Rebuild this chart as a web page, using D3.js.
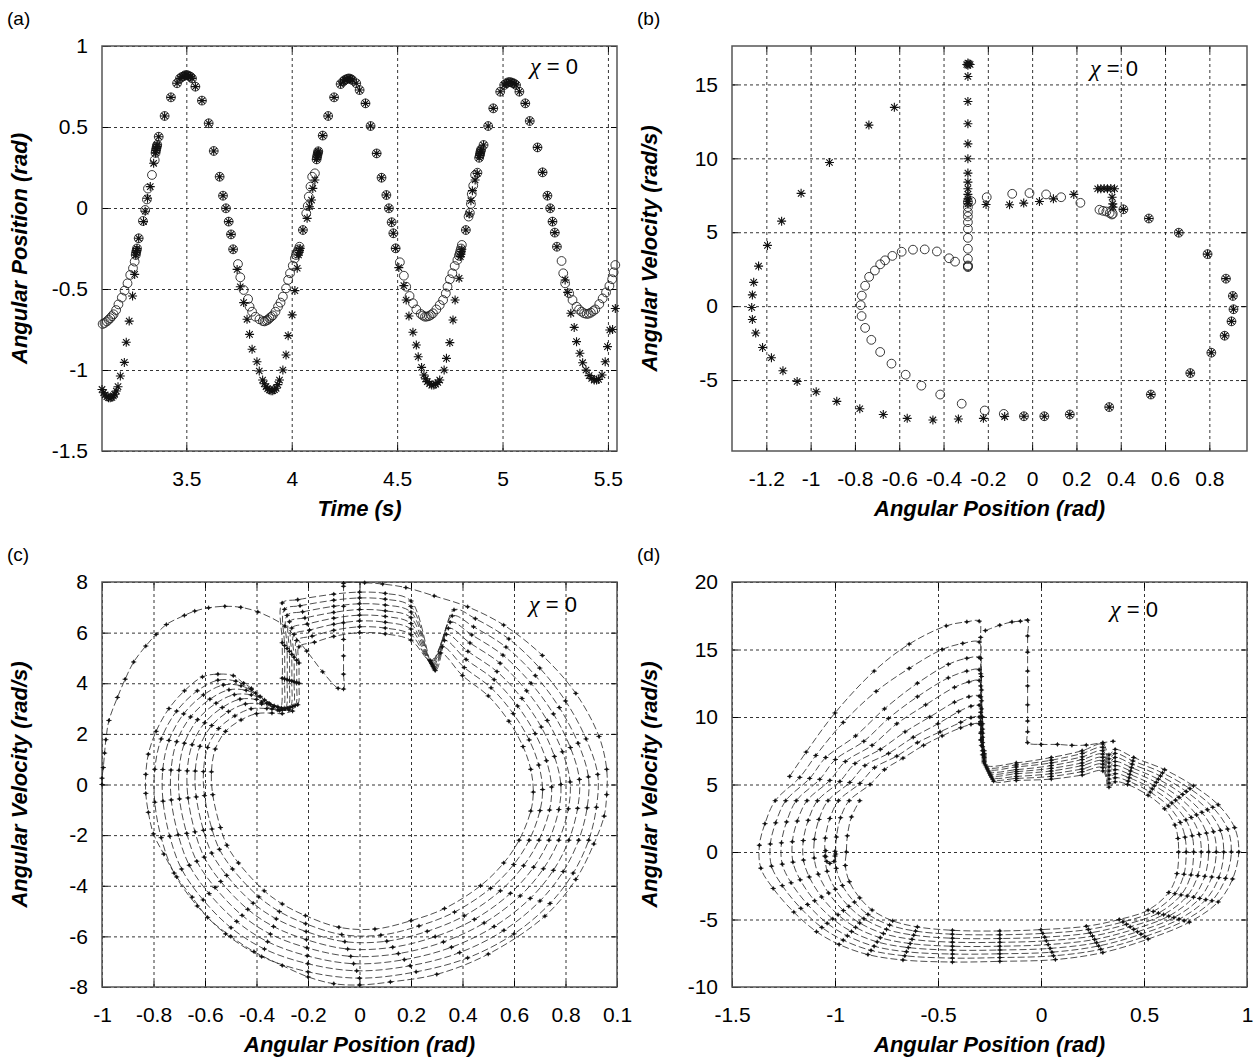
<!DOCTYPE html>
<html>
<head>
<meta charset="utf-8">
<script src="https://cdn.jsdelivr.net/npm/d3@7"></script>
<style>
  body { margin: 0; background: #fff; }
  svg { font-family: "Liberation Sans", Arial, sans-serif; }
  .grid line { stroke: #000; stroke-width: 0.8; stroke-dasharray: 3,3; }
  .grid path, .ticks path, .labels path, .labels line { display: none; }
  .ticks line { stroke: #000; stroke-width: 1; }
  .labels text { font-size: 21px; fill: #000; }
  .title { font-size: 22px; font-weight: bold; font-style: italic; }
  .panel-tag { font-size: 19px; }
</style>
</head>
<body>
<svg id="fig" width="1259" height="1059"></svg>
<script>
"use strict";

// ---------- (a) angular position vs time: [time s, angle rad] ----------
const circlesA = [
  [3.103,-0.716],[3.112,-0.71],[3.123,-0.70],[3.131,-0.69],[3.139,-0.68],[3.147,-0.668],[3.155,-0.656],
  [3.167,-0.63],[3.178,-0.595],[3.194,-0.553],[3.207,-0.51],[3.221,-0.465],[3.234,-0.413],[3.247,-0.372],
  [3.255,-0.331],[3.26,-0.29],[3.262,-0.275],[3.264,-0.263],[3.266,-0.25],[3.274,-0.187],[3.294,-0.08],
  [3.305,-0.012],[3.313,0.053],[3.318,0.12],[3.337,0.204],[3.35,0.296],[3.354,0.34],[3.356,0.355],
  [3.358,0.368],[3.36,0.38],[3.362,0.39],[3.369,0.44],[3.397,0.568],[3.427,0.683],[3.456,0.77],[3.47,0.80],
  [3.48,0.81],[3.49,0.815],[3.495,0.82],[3.503,0.82],[3.511,0.817],[3.52,0.81],[3.527,0.80],[3.543,0.749],
  [3.574,0.663],[3.606,0.523],[3.63,0.352],[3.658,0.193],[3.674,0.076],[3.688,-0.002],[3.701,-0.084],
  [3.712,-0.163],[3.722,-0.255],[3.745,-0.346],[3.756,-0.428],[3.772,-0.506],[3.793,-0.562],[3.8,-0.609],
  [3.812,-0.64],[3.828,-0.671],[3.847,-0.687],[3.863,-0.698],[3.871,-0.70],[3.879,-0.695],[3.887,-0.69],
  [3.894,-0.68],[3.902,-0.672],[3.91,-0.663],[3.923,-0.64],[3.935,-0.609],[3.947,-0.584],[3.958,-0.547],
  [3.973,-0.496],[3.983,-0.444],[3.992,-0.403],[4.005,-0.356],[4.015,-0.311],[4.02,-0.29],[4.024,-0.28],
  [4.028,-0.268],[4.032,-0.255],[4.037,-0.239],[4.053,-0.136],[4.069,-0.033],[4.076,0.012],[4.081,0.07],
  [4.089,0.132],[4.097,0.193],[4.11,0.214],[4.118,0.30],[4.12,0.315],[4.122,0.327],[4.124,0.34],[4.126,0.35],
  [4.147,0.447],[4.173,0.568],[4.201,0.683],[4.232,0.765],[4.245,0.782],[4.252,0.79],[4.262,0.797],
  [4.271,0.80],[4.279,0.797],[4.287,0.79],[4.306,0.77],[4.322,0.728],[4.35,0.646],[4.374,0.506],[4.403,0.337],
  [4.426,0.187],[4.449,0.08],[4.461,-0.002],[4.474,-0.088],[4.482,-0.156],[4.493,-0.249],[4.513,-0.335],
  [4.532,-0.418],[4.543,-0.486],[4.559,-0.543],[4.575,-0.588],[4.591,-0.626],[4.612,-0.654],[4.622,-0.664],
  [4.632,-0.671],[4.641,-0.67],[4.651,-0.667],[4.66,-0.66],[4.67,-0.65],[4.686,-0.626],[4.702,-0.599],
  [4.718,-0.568],[4.731,-0.527],[4.739,-0.486],[4.75,-0.44],[4.762,-0.403],[4.773,-0.358],[4.786,-0.321],
  [4.793,-0.295],[4.797,-0.28],[4.80,-0.265],[4.803,-0.25],[4.807,-0.228],[4.826,-0.136],[4.839,-0.053],
  [4.845,-0.03],[4.85,0.025],[4.854,0.086],[4.861,0.138],[4.87,0.204],[4.881,0.218],[4.889,0.31],[4.892,0.325],
  [4.894,0.337],[4.896,0.35],[4.898,0.36],[4.91,0.389],[4.932,0.506],[4.956,0.615],[4.989,0.718],[5.008,0.759],
  [5.018,0.77],[5.027,0.776],[5.036,0.777],[5.045,0.774],[5.055,0.768],[5.064,0.759],[5.08,0.718],[5.108,0.646],
  [5.129,0.537],[5.166,0.374],[5.19,0.22],[5.213,0.076],[5.226,-0.002],[5.237,-0.084],[5.248,-0.152],
  [5.258,-0.239],[5.28,-0.327],[5.288,-0.403],[5.297,-0.465],[5.316,-0.527],[5.332,-0.568],[5.351,-0.609],
  [5.363,-0.627],[5.375,-0.64],[5.387,-0.65],[5.399,-0.654],[5.409,-0.652],[5.419,-0.646],[5.43,-0.636],
  [5.44,-0.626],[5.459,-0.593],[5.475,-0.558],[5.491,-0.521],[5.507,-0.481],[5.52,-0.44],[5.527,-0.397],
  [5.535,-0.352]
];
const starsA = [
  [3.1,-1.12],[3.108,-1.14],[3.115,-1.154],[3.123,-1.165],[3.131,-1.171],[3.139,-1.172],[3.147,-1.169],
  [3.154,-1.16],[3.16,-1.15],[3.168,-1.13],[3.176,-1.103],[3.187,-1.037],[3.206,-0.953],[3.215,-0.829],
  [3.229,-0.698],[3.245,-0.543],[3.255,-0.41],[3.26,-0.29],[3.262,-0.275],[3.264,-0.263],[3.266,-0.25],
  [3.274,-0.187],[3.297,-0.084],[3.305,-0.02],[3.316,0.06],[3.329,0.132],[3.345,0.276],[3.354,0.34],
  [3.356,0.355],[3.358,0.368],[3.36,0.38],[3.362,0.39],[3.369,0.44],[3.397,0.568],[3.427,0.683],[3.456,0.77],
  [3.47,0.80],[3.48,0.81],[3.49,0.815],[3.495,0.82],[3.503,0.82],[3.511,0.817],[3.52,0.81],[3.527,0.80],
  [3.543,0.749],[3.574,0.663],[3.606,0.523],[3.63,0.352],[3.658,0.193],[3.674,0.076],[3.688,-0.002],
  [3.701,-0.084],[3.712,-0.163],[3.722,-0.255],[3.741,-0.379],[3.756,-0.486],[3.772,-0.584],[3.788,-0.687],
  [3.8,-0.78],[3.812,-0.872],[3.835,-0.949],[3.846,-1.006],[3.862,-1.062],[3.87,-1.085],[3.878,-1.103],
  [3.886,-1.115],[3.894,-1.123],[3.902,-1.128],[3.91,-1.128],[3.918,-1.122],[3.926,-1.113],[3.934,-1.09],
  [3.942,-1.062],[3.958,-1.0],[3.973,-0.907],[3.983,-0.788],[4.002,-0.66],[4.015,-0.51],[4.026,-0.372],
  [4.032,-0.29],[4.035,-0.275],[4.037,-0.262],[4.04,-0.25],[4.053,-0.136],[4.073,-0.064],[4.084,0.008],
  [4.094,0.049],[4.1,0.121],[4.11,0.173],[4.118,0.30],[4.12,0.315],[4.122,0.327],[4.124,0.34],[4.126,0.35],
  [4.147,0.447],[4.173,0.568],[4.201,0.683],[4.232,0.765],[4.245,0.782],[4.252,0.79],[4.262,0.797],
  [4.271,0.80],[4.279,0.797],[4.287,0.79],[4.306,0.77],[4.322,0.728],[4.35,0.646],[4.374,0.506],[4.403,0.337],
  [4.426,0.187],[4.449,0.08],[4.461,-0.002],[4.474,-0.088],[4.482,-0.156],[4.493,-0.249],[4.508,-0.368],
  [4.532,-0.479],[4.543,-0.568],[4.556,-0.667],[4.575,-0.767],[4.591,-0.846],[4.6,-0.918],[4.616,-0.984],
  [4.627,-1.031],[4.635,-1.055],[4.643,-1.072],[4.654,-1.085],[4.664,-1.093],[4.674,-1.092],[4.683,-1.088],
  [4.693,-1.077],[4.702,-1.062],[4.723,-1.0],[4.734,-0.928],[4.75,-0.831],[4.765,-0.691],[4.775,-0.568],
  [4.794,-0.434],[4.80,-0.3],[4.803,-0.285],[4.805,-0.27],[4.807,-0.255],[4.826,-0.136],[4.842,-0.037],
  [4.85,0.045],[4.857,0.107],[4.87,0.173],[4.88,0.214],[4.889,0.31],[4.892,0.325],[4.894,0.337],[4.896,0.35],
  [4.898,0.36],[4.91,0.389],[4.932,0.506],[4.956,0.615],[4.989,0.718],[5.008,0.759],[5.018,0.77],[5.027,0.776],
  [5.036,0.777],[5.045,0.774],[5.055,0.768],[5.064,0.759],[5.08,0.718],[5.108,0.646],[5.129,0.537],
  [5.166,0.374],[5.19,0.22],[5.213,0.076],[5.226,-0.002],[5.237,-0.084],[5.248,-0.152],[5.258,-0.239],
  [5.297,-0.444],[5.309,-0.521],[5.324,-0.65],[5.34,-0.737],[5.351,-0.825],[5.367,-0.897],[5.38,-0.955],
  [5.396,-1.0],[5.411,-1.035],[5.423,-1.052],[5.435,-1.062],[5.446,-1.062],[5.456,-1.058],[5.472,-1.031],
  [5.487,-0.949],[5.498,-0.856],[5.509,-0.753],[5.522,-0.75],[5.535,-0.62]
];

// ---------- (b) phase plane samples: [angle rad, velocity rad/s] ----------
const sharedB = [
  [-0.037,-7.45],[0.055,-7.45],[0.17,-7.33],[0.348,-6.83],[0.536,-5.98],[0.714,-4.53],[0.809,-3.15],
  [0.869,-2.0],[0.9,-1.03],[0.909,-0.21],[0.906,0.69],[0.875,1.86],[0.792,3.52],[0.662,4.97],[0.527,5.93],
  [0.412,6.55]
];
const circlesB = [
  [-0.769,0.71],[-0.774,0.07],[-0.77,-0.67],[-0.754,-1.47],[-0.726,-2.28],[-0.686,-3.1],[-0.635,-3.89],
  [-0.571,-4.64],[-0.5,-5.38],[-0.415,-5.98],[-0.318,-6.6],[-0.214,-7.06],[-0.128,-7.29],
  [-0.754,1.38],[-0.736,1.98],[-0.71,2.41],[-0.686,2.83],[-0.664,3.1],[-0.631,3.4],[-0.589,3.68],
  [-0.538,3.82],[-0.485,3.84],[-0.43,3.7],[-0.375,3.24],[-0.348,3.01],
  [-0.29,2.64],[-0.29,2.7],[-0.29,2.75],[-0.29,3.2],[-0.29,3.88],[-0.29,4.62],[-0.29,5.23],[-0.29,5.68],
  [-0.29,6.07],[-0.29,6.36],[-0.29,6.7],[-0.29,7.04],[-0.275,7.1],
  [-0.205,7.37],[-0.09,7.6],[-0.012,7.65],[0.063,7.56],[0.131,7.37],[0.218,6.99],
  [0.304,6.52],[0.32,6.45],[0.335,6.4],[0.35,6.3],[0.36,6.2],[0.364,6.25]
];
const starsB = [
  [-1.266,-0.09],[-1.263,0.76],[-1.257,1.61],[-1.235,2.71],[-1.195,4.11],[-1.131,5.75],[-1.043,7.63],
  [-0.915,9.72],[-0.737,12.25],[-0.622,13.45],
  [-1.263,-0.9],[-1.248,-1.82],[-1.217,-2.8],[-1.177,-3.49],[-1.125,-4.37],[-1.061,-5.1],[-0.975,-5.79],
  [-0.882,-6.44],[-0.778,-6.94],[-0.672,-7.33],[-0.564,-7.59],[-0.448,-7.7],[-0.333,-7.63],[-0.22,-7.59],
  [-0.124,-7.47],
  [-0.295,16.35],[-0.29,16.45],[-0.285,16.4],[-0.28,16.35],[-0.29,16.3],[-0.29,15.54],[-0.29,13.85],
  [-0.29,12.34],[-0.29,10.98],[-0.29,9.97],[-0.29,9.0],[-0.29,8.39],[-0.29,7.94],[-0.29,7.56],[-0.29,7.26],
  [-0.29,6.92],[-0.29,7.1],
  [-0.208,6.88],[-0.102,6.86],[-0.038,6.97],[0.033,7.08],[0.096,7.26],[0.188,7.56],
  [0.296,7.94],[0.31,7.94],[0.325,7.96],[0.34,7.94],[0.355,7.96],[0.372,7.94],[0.361,7.37],[0.364,6.92],
  [0.365,6.7]
];

// ---------- (c) phase portrait ----------
const startC = [
  [-1,0],[-1,0.25],[-0.995,0.67],[-0.99,1.24],[-0.985,1.77],[-0.973,2.53],[-0.94,3.44],[-0.91,4.16],
  [-0.877,4.84],[-0.83,5.47],[-0.79,5.93],[-0.75,6.32],[-0.68,6.68],[-0.64,6.85],[-0.586,6.98],[-0.523,7.04],
  [-0.461,7.0],[-0.395,6.82],[-0.29,6.26],[-0.205,5.27],[-0.143,4.45],[-0.083,3.8],[-0.062,3.77],
  [-0.062,4.36],[-0.062,5.08],[-0.062,5.73],[-0.062,6.39],[-0.062,7.04],[-0.062,7.83],[-0.062,7.95],
  [0.02,7.97],[0.09,7.92],[0.18,7.78],[0.29,7.45],[0.42,7.02],[0.56,6.3],[0.71,5.1],[0.84,3.6],[0.93,1.9],
  [0.96,0.6],[0.96,-0.4],[0.95,-1.25],[0.91,-2.35],[0.84,-3.75],[0.72,-5.2],[0.5,-6.7],[0.3,-7.5],
  [0.12,-7.8],[0.0,-7.92],[-0.1,-7.87],[-0.2,-7.6],[-0.3,-7.15],[-0.41,-6.6],[-0.5,-6.0],[-0.59,-5.25],
  [-0.65,-4.45],[-0.71,-3.65],[-0.76,-2.75],[-0.8,-1.95],[-0.82,-1.1],[-0.83,-0.35],[-0.83,0.4],[-0.82,1.2],
  [-0.79,2.1],[-0.74,3.0],[-0.68,3.7],[-0.61,4.25],[-0.55,4.36],[-0.49,4.3],[-0.45,4.0],[-0.42,3.8],
  [-0.38,3.25],[-0.34,2.98]
];
// one entry per station round the ring: [x of rings 1..8, y of rings 1..8] (single number = same for all)
const kickXC = [-0.30,-0.291,-0.281,-0.272,-0.263,-0.254,-0.244,-0.235];
const ringStationsC = [
  [[-0.31,-0.30,-0.29,-0.28,-0.27,-0.26,-0.25,-0.24],[2.92,2.95,2.99,3.02,3.05,3.08,3.12,3.15]],
  [kickXC,[4.2,4.17,4.14,4.11,4.09,4.06,4.03,4.0]],
  [kickXC,[5.6,5.49,5.37,5.26,5.14,5.03,4.91,4.8]],
  [kickXC,[7.17,6.92,6.68,6.43,6.18,5.93,5.69,5.44]],
  [[-0.24,-0.231,-0.221,-0.212,-0.203,-0.194,-0.184,-0.175],[7.3,7.06,6.82,6.58,6.34,6.1,5.86,5.62]],
  [-0.1,[7.52,7.28,7.04,6.8,6.57,6.33,6.09,5.85]],
  [0,[7.6,7.37,7.14,6.91,6.69,6.46,6.23,6.0]],
  [0.1,[7.55,7.32,7.09,6.86,6.64,6.41,6.18,5.95]],
  [0.2,[7.25,7.03,6.81,6.59,6.36,6.14,5.92,5.7]],
  [[0.294,0.291,0.289,0.286,0.283,0.28,0.278,0.275],[4.5,4.56,4.61,4.67,4.73,4.79,4.84,4.9]],
  [[0.367,0.36,0.352,0.345,0.337,0.33,0.322,0.315],[6.9,6.66,6.41,6.17,5.93,5.69,5.44,5.2]],
  [[0.45,0.443,0.436,0.429,0.421,0.414,0.407,0.40],[6.55,6.23,5.91,5.59,5.26,4.94,4.62,4.3]],
  [[0.58,0.569,0.557,0.546,0.534,0.523,0.511,0.50],[5.75,5.43,5.11,4.79,4.46,4.14,3.82,3.5]],
  [[0.70,0.683,0.666,0.649,0.631,0.614,0.597,0.58],[4.6,4.3,4.0,3.7,3.4,3.1,2.8,2.5]],
  [[0.80,0.776,0.753,0.729,0.706,0.682,0.659,0.635],[3.3,3.04,2.79,2.53,2.27,2.01,1.76,1.5]],
  [[0.88,0.849,0.819,0.788,0.757,0.726,0.696,0.665],[1.8,1.63,1.46,1.29,1.11,0.94,0.77,0.6]],
  [[0.925,0.889,0.854,0.818,0.782,0.746,0.711,0.675],[0.4,0.3,0.2,0.1,0.0,-0.1,-0.2,-0.3]],
  [[0.92,0.884,0.847,0.811,0.774,0.738,0.701,0.665],[-0.9,-0.92,-0.94,-0.96,-0.99,-1.01,-1.03,-1.05]],
  [[0.89,0.851,0.813,0.774,0.736,0.697,0.659,0.62],-2.2],
  [[0.83,0.791,0.753,0.714,0.676,0.637,0.599,0.56],[-3.5,-3.44,-3.39,-3.33,-3.27,-3.21,-3.16,-3.1]],
  [[0.74,0.701,0.663,0.624,0.586,0.547,0.509,0.47],[-4.7,-4.6,-4.5,-4.4,-4.3,-4.2,-4.1,-4.0]],
  [[0.6,0.561,0.523,0.484,0.446,0.407,0.369,0.33],[-5.9,-5.76,-5.61,-5.47,-5.33,-5.19,-5.04,-4.9]],
  [[0.42,0.389,0.357,0.326,0.294,0.263,0.231,0.2],[-6.85,-6.64,-6.43,-6.22,-6.01,-5.8,-5.59,-5.38]],
  [[0.22,0.197,0.174,0.151,0.129,0.106,0.083,0.06],[-7.4,-7.16,-6.92,-6.68,-6.43,-6.19,-5.95,-5.71]],
  [[0,-0.011,-0.023,-0.034,-0.046,-0.057,-0.069,-0.08],[-7.65,-7.36,-7.08,-6.79,-6.5,-6.21,-5.93,-5.64]],
  [[-0.2,-0.201,-0.203,-0.204,-0.206,-0.207,-0.209,-0.21],[-7.4,-7.08,-6.77,-6.45,-6.13,-5.81,-5.5,-5.18]],
  [[-0.38,-0.369,-0.357,-0.346,-0.334,-0.323,-0.311,-0.3],[-6.8,-6.5,-6.21,-5.91,-5.61,-5.31,-5.02,-4.72]],
  [[-0.52,-0.499,-0.477,-0.456,-0.434,-0.413,-0.391,-0.37],[-5.9,-5.66,-5.41,-5.17,-4.93,-4.69,-4.44,-4.2]],
  [[-0.63,-0.607,-0.584,-0.561,-0.539,-0.516,-0.493,-0.47],[-4.8,-4.56,-4.31,-4.07,-3.83,-3.59,-3.34,-3.1]],
  [[-0.72,-0.691,-0.661,-0.632,-0.603,-0.574,-0.544,-0.515],[-3.5,-3.34,-3.19,-3.03,-2.87,-2.71,-2.56,-2.4]],
  [[-0.77,-0.737,-0.704,-0.671,-0.639,-0.606,-0.573,-0.54],[-2.1,-2.04,-1.99,-1.93,-1.87,-1.81,-1.76,-1.7]],
  [[-0.795,-0.763,-0.731,-0.699,-0.666,-0.634,-0.602,-0.57],[-0.7,-0.66,-0.61,-0.57,-0.53,-0.49,-0.44,-0.4]],
  [[-0.795,-0.764,-0.732,-0.701,-0.669,-0.638,-0.606,-0.575],[0.6,0.59,0.57,0.56,0.54,0.53,0.51,0.5]],
  [[-0.77,-0.74,-0.71,-0.68,-0.65,-0.62,-0.59,-0.56],[1.8,1.74,1.69,1.63,1.57,1.51,1.46,1.4]],
  [[-0.71,-0.683,-0.656,-0.629,-0.601,-0.574,-0.547,-0.52],[2.9,2.79,2.67,2.56,2.44,2.33,2.21,2.1]],
  [[-0.63,-0.606,-0.581,-0.557,-0.533,-0.509,-0.484,-0.46],[3.7,3.54,3.37,3.21,3.04,2.88,2.71,2.55]],
  [[-0.55,-0.529,-0.507,-0.486,-0.464,-0.443,-0.421,-0.4],[4.12,3.93,3.74,3.55,3.37,3.18,2.99,2.8]],
  [[-0.48,-0.46,-0.44,-0.42,-0.4,-0.38,-0.36,-0.34],[4.08,3.9,3.72,3.54,3.36,3.18,3.0,2.82]],
  [[-0.42,-0.403,-0.386,-0.369,-0.351,-0.334,-0.317,-0.3],[3.75,3.61,3.48,3.34,3.21,3.07,2.94,2.8]],
  [[-0.36,-0.346,-0.331,-0.317,-0.303,-0.289,-0.274,-0.26],[3.2,3.16,3.11,3.07,3.03,2.99,2.94,2.9]]
];

// ---------- (d) phase portrait ----------
const startD = [
  [-0.27,16.4],[-0.2,16.8],[-0.141,17.04],[-0.1,17.1],[-0.065,17.17],[-0.065,16.0],[-0.065,14.8],
  [-0.065,13.4],[-0.065,12.3],[-0.065,10.9],[-0.065,9.7],[-0.065,8.9],[-0.065,8.1],[0.0,7.97],[0.08,7.97],
  [0.15,7.9],[0.22,7.92],[0.3,8.1],[0.35,8.2]
];
const hookD = [[-1.045,0.1],[-1.045,-0.35],[-1.04,-0.7],[-1.025,-0.85],[-1.005,-0.7],[-1.0,-0.3],[-1.0,0.05]];
// one entry per station: [x of rings 1..9, y of rings 1..9]
const ringStationsD = [
  [[-1.22,-1.171,-1.123,-1.074,-1.025,-0.976,-0.928,-0.879,-0.83],[5.6,5.53,5.45,5.38,5.3,5.23,5.15,5.08,5.0]],
  [[-1.14,-1.093,-1.045,-0.998,-0.95,-0.903,-0.855,-0.808,-0.76],[7.4,7.15,7.0,6.85,6.7,6.55,6.4,6.25,6.1]],
  [[-1.0,-0.96,-0.9,-0.86,-0.82,-0.78,-0.74,-0.7,-0.67],[10.3,9.6,8.6,8.2,7.9,7.6,7.3,7.1,6.95]],
  [[-0.81,-0.8,-0.76,-0.74,-0.7,-0.66,-0.62,-0.6,-0.57],[13.4,11.9,10.6,9.9,9.5,8.9,8.5,8.1,7.9]],
  [[-0.64,-0.64,-0.6,-0.6,-0.56,-0.54,-0.5,-0.49,-0.48],[15.4,13.6,12.5,11.5,10.9,10.0,9.5,8.9,8.6]],
  [[-0.46,-0.48,-0.45,-0.45,-0.42,-0.42,-0.4,-0.39,-0.39],[16.75,15.0,13.9,12.9,12.2,11.1,10.4,9.6,9.2]],
  [[-0.36,-0.38,-0.36,-0.36,-0.35,-0.35,-0.34,-0.34,-0.34],[17.05,15.45,14.35,13.4,12.6,11.5,10.8,9.95,9.45]],
  [-0.30,[17.1,15.55,14.4,13.5,12.7,11.55,10.87,10.0,9.5]],
  [-0.293,[15.9,14.35,13.2,12.3,11.5,10.35,9.67,8.8,8.3]],
  [-0.289,[13.0,12.0,11.2,10.6,10.0,9.4,8.9,8.3,7.9]],
  [-0.284,[10.0,9.5,9.1,8.8,8.5,8.1,7.8,7.5,7.2]],
  [-0.276,[7.5,7.3,7.2,7.1,7.0,6.9,6.8,6.7,6.6]],
  [[-0.27,-0.265,-0.26,-0.255,-0.25,-0.245,-0.24,-0.235,-0.23],[6.45,6.3,6.15,6.0,5.85,5.7,5.55,5.4,5.25]],
  [-0.12,[6.6,6.45,6.3,6.1,5.95,5.8,5.6,5.45,5.3]],
  [0.05,[7.0,6.8,6.6,6.4,6.2,6.0,5.8,5.6,5.4]],
  [0.2,[7.5,7.3,7.05,6.85,6.6,6.4,6.15,5.95,5.7]],
  [0.3,[8.0,7.75,7.5,7.25,7.0,6.75,6.5,6.25,6.0]],
  [0.33,[7.2,6.9,6.6,6.3,6.0,5.7,5.4,5.1,4.8]],
  [0.36,[7.6,7.3,7.0,6.7,6.4,6.1,5.8,5.5,5.2]],
  [[0.45,0.446,0.443,0.439,0.435,0.431,0.428,0.424,0.42],[7.0,6.75,6.5,6.25,6.0,5.75,5.5,5.25,5.0]],
  [[0.6,0.59,0.58,0.57,0.56,0.55,0.54,0.53,0.52],[6.1,5.86,5.63,5.39,5.15,4.91,4.68,4.44,4.2]],
  [[0.74,0.723,0.705,0.688,0.67,0.653,0.635,0.618,0.6],[4.9,4.69,4.48,4.26,4.05,3.84,3.63,3.41,3.2]],
  [[0.86,0.834,0.808,0.781,0.755,0.729,0.703,0.676,0.65],[3.5,3.31,3.13,2.94,2.75,2.56,2.38,2.19,2.0]],
  [[0.94,0.906,0.871,0.837,0.803,0.768,0.734,0.699,0.665],[1.8,1.7,1.6,1.5,1.4,1.3,1.2,1.1,1.0]],
  [[0.96,0.924,0.887,0.851,0.814,0.778,0.741,0.705,0.668],0],
  [[0.93,0.896,0.863,0.829,0.795,0.761,0.728,0.694,0.66],[-2.0,-1.95,-1.9,-1.85,-1.8,-1.75,-1.7,-1.65,-1.6]],
  [[0.86,0.83,0.8,0.77,0.74,0.71,0.68,0.65,0.62],[-3.7,-3.61,-3.53,-3.44,-3.35,-3.26,-3.18,-3.09,-3.0]],
  [[0.72,0.695,0.67,0.645,0.62,0.595,0.57,0.545,0.52],[-5.2,-5.09,-4.98,-4.86,-4.75,-4.64,-4.53,-4.41,-4.3]],
  [[0.52,0.503,0.485,0.468,0.45,0.433,0.415,0.398,0.38],[-6.45,-6.27,-6.09,-5.91,-5.73,-5.54,-5.36,-5.18,-5.0]],
  [[0.3,0.29,0.28,0.27,0.26,0.25,0.24,0.23,0.22],[-7.45,-7.21,-6.96,-6.72,-6.48,-6.23,-5.99,-5.74,-5.5]],
  [[0.07,0.061,0.053,0.044,0.035,0.026,0.018,0.009,0.0],[-7.97,-7.69,-7.42,-7.14,-6.86,-6.58,-6.31,-6.03,-5.75]],
  [-0.2,[-8.1,-7.82,-7.54,-7.26,-6.98,-6.69,-6.41,-6.13,-5.85]],
  [-0.43,[-8.15,-7.86,-7.56,-7.27,-6.98,-6.68,-6.39,-6.09,-5.8]],
  [[-0.67,-0.661,-0.653,-0.644,-0.635,-0.626,-0.618,-0.609,-0.6],[-8.0,-7.69,-7.39,-7.08,-6.78,-6.47,-6.16,-5.86,-5.55]],
  [[-0.84,-0.825,-0.81,-0.795,-0.78,-0.765,-0.75,-0.735,-0.72],[-7.6,-7.29,-6.98,-6.66,-6.35,-6.04,-5.73,-5.41,-5.1]],
  [[-0.98,-0.96,-0.94,-0.92,-0.9,-0.88,-0.86,-0.84,-0.82],[-6.85,-6.53,-6.21,-5.89,-5.58,-5.26,-4.94,-4.62,-4.3]],
  [[-1.09,-1.064,-1.038,-1.011,-0.985,-0.959,-0.933,-0.906,-0.88],[-5.9,-5.59,-5.28,-4.96,-4.65,-4.34,-4.03,-3.71,-3.4]],
  [[-1.2,-1.166,-1.133,-1.099,-1.065,-1.031,-0.998,-0.964,-0.93],[-4.45,-4.17,-3.89,-3.61,-3.33,-3.04,-2.76,-2.48,-2.2]],
  [[-1.3,-1.256,-1.213,-1.169,-1.125,-1.081,-1.038,-0.994,-0.95],[-2.7,-2.49,-2.28,-2.06,-1.85,-1.64,-1.43,-1.21,-1.0]],
  [[-1.36,-1.308,-1.256,-1.204,-1.153,-1.101,-1.049,-0.997,-0.945],[-1.2,-1.05,-0.9,-0.75,-0.6,-0.45,-0.3,-0.15,0.0]],
  [[-1.367,-1.314,-1.26,-1.207,-1.154,-1.1,-1.047,-0.993,-0.94],[0.5,0.59,0.68,0.76,0.85,0.94,1.03,1.11,1.2]],
  [[-1.34,-1.288,-1.235,-1.183,-1.13,-1.078,-1.025,-0.973,-0.92],[2.1,2.16,2.23,2.29,2.35,2.41,2.48,2.54,2.6]],
  [[-1.29,-1.239,-1.188,-1.136,-1.085,-1.034,-0.983,-0.931,-0.88],3.8]
];

// ---------- axes ----------
const ticksA = { x: [3.5, 4, 4.5, 5, 5.5], y: [1, 0.5, 0, -0.5, -1, -1.5] };
const ticksB = { x: [-1.2, -1, -0.8, -0.6, -0.4, -0.2, 0, 0.2, 0.4, 0.6, 0.8], y: [15, 10, 5, 0, -5] };
const ticksC = { x: [-1, -0.8, -0.6, -0.4, -0.2, 0, 0.2, 0.4, 0.6, 0.8, 1], y: [8, 6, 4, 2, 0, -2, -4, -6, -8] };
const labelsCx = ["-1", "-0.8", "-0.6", "-0.4", "-0.2", "0", "0.2", "0.4", "0.6", "0.8", "0.1"];
const ticksD = { x: [-1.5, -1, -0.5, 0, 0.5, 1], y: [20, 15, 10, 5, 0, -5, -10] };

const svg = d3.select("#fig");
const plain = d => String(d);   // hyphen-minus, as in the figure

function ringsFrom(stations, n) {
  const pick = (v, k) => Array.isArray(v) ? v[k] : v;
  return d3.range(n).map(k => stations.map(s => [pick(s[0], k), pick(s[1], k)]));
}

function makePanel(p) {
  const x = d3.scaleLinear().domain(p.xDomain).range([p.left, p.right]),
        y = d3.scaleLinear().domain(p.yDomain).range([p.bottom, p.top]),
        w = p.right - p.left,
        h = p.bottom - p.top,
        g = svg.append("g");

  g.append("g").attr("class", "grid")
    .attr("transform", `translate(0,${p.bottom})`)
    .call(d3.axisBottom(x).tickValues(p.ticks.x).tickSize(-h).tickFormat(""));
  g.append("g").attr("class", "grid")
    .attr("transform", `translate(${p.left},0)`)
    .call(d3.axisLeft(y).tickValues(p.ticks.y).tickSize(-w).tickFormat(""));

  // short solid ticks inside the frame
  g.append("g").attr("class", "ticks").attr("transform", `translate(0,${p.bottom})`)
    .call(d3.axisBottom(x).tickValues(p.ticks.x).tickSize(-6).tickFormat(""));
  g.append("g").attr("class", "ticks").attr("transform", `translate(0,${p.top})`)
    .call(d3.axisTop(x).tickValues(p.ticks.x).tickSize(-6).tickFormat(""));
  g.append("g").attr("class", "ticks").attr("transform", `translate(${p.left},0)`)
    .call(d3.axisLeft(y).tickValues(p.ticks.y).tickSize(-6).tickFormat(""));
  g.append("g").attr("class", "ticks").attr("transform", `translate(${p.right},0)`)
    .call(d3.axisRight(y).tickValues(p.ticks.y).tickSize(-6).tickFormat(""));

  g.append("rect")
    .attr("x", p.left).attr("y", p.top).attr("width", w).attr("height", h)
    .attr("fill", "none").attr("stroke", "#555").attr("stroke-width", 1.5);

  g.append("g").attr("class", "labels")
    .attr("transform", `translate(0,${p.bottom})`)
    .call(d3.axisBottom(x).tickValues(p.ticks.x).tickSize(0).tickPadding(20)
      .tickFormat((d, i) => p.xLabels ? p.xLabels[i] : plain(d)));
  g.append("g").attr("class", "labels")
    .attr("transform", `translate(${p.left},0)`)
    .call(d3.axisLeft(y).tickValues(p.ticks.y).tickSize(0).tickPadding(14).tickFormat(plain));

  g.append("text").attr("class", "title")
    .attr("x", (p.left + p.right) / 2).attr("y", p.bottom + 65)
    .attr("text-anchor", "middle").text(p.xTitle);
  g.append("text").attr("class", "title")
    .attr("transform", `translate(${p.left - 75},${(p.top + p.bottom) / 2}) rotate(-90)`)
    .attr("text-anchor", "middle").text(p.yTitle);

  g.append("text").attr("class", "panel-tag")
    .attr("x", p.left - 95).attr("y", p.top - 21).text(p.tag);

  const chi = g.append("text").attr("x", p.chi[0]).attr("y", p.chi[1]).attr("font-size", 22);
  chi.append("tspan").attr("font-family", "'Liberation Serif', 'DejaVu Serif', serif")
    .attr("font-style", "italic").attr("font-size", 24).text("χ");
  chi.append("tspan").text(" = 0");

  const plot = g.append("g");
  return { plot, x, y };
}

const starPath = "M0,-4.5V4.5M-4.5,0H4.5M-3.2,-3.2L3.2,3.2M-3.2,3.2L3.2,-3.2";

function drawScatter(panel, circles, stars) {
  panel.plot.selectAll(".c").data(circles).enter().append("circle")
    .attr("cx", d => panel.x(d[0])).attr("cy", d => panel.y(d[1])).attr("r", 4.4)
    .attr("fill", "none").attr("stroke", "#222").attr("stroke-width", 0.9);
  panel.plot.selectAll(".s").data(stars).enter().append("path")
    .attr("transform", d => `translate(${panel.x(d[0])},${panel.y(d[1])})`)
    .attr("d", starPath).attr("stroke", "#111").attr("stroke-width", 1.1).attr("fill", "none");
}

function drawTrajectory(panel, pts) {
  const line = d3.line().x(d => panel.x(d[0])).y(d => panel.y(d[1]))
    .curve(d3.curveCatmullRom.alpha(0.5));
  panel.plot.append("path").datum(pts).attr("d", line)
    .attr("fill", "none").attr("stroke", "#222").attr("stroke-width", 0.8)
    .attr("stroke-dasharray", "7,3");
  const m = panel.plot.append("g").selectAll("g").data(pts).enter().append("g")
    .attr("transform", d => `translate(${panel.x(d[0])},${panel.y(d[1])})`);
  m.append("path").attr("d", "M-2.6,0H2.6M0,-2.2V2.2").attr("stroke", "#111").attr("stroke-width", 0.9);
  m.append("circle").attr("r", 1.4).attr("fill", "#111");
}

// (a)
const pa = makePanel({
  tag: "(a)", left: 102, right: 617, top: 46, bottom: 451,
  xDomain: [3.1, 5.543], yDomain: [-1.5, 1], ticks: ticksA,
  xTitle: "Time (s)", yTitle: "Angular Position (rad)", chi: [530, 74]
});
drawScatter(pa, circlesA, starsA);

// (b)
const pb = makePanel({
  tag: "(b)", left: 732, right: 1247, top: 46, bottom: 451,
  xDomain: [-1.355, 0.97], yDomain: [-9.8, 17.6], ticks: ticksB,
  xTitle: "Angular Position (rad)", yTitle: "Angular Velocity (rad/s)", chi: [1090, 76]
});
drawScatter(pb, circlesB.concat(sharedB), starsB.concat(sharedB));

// (c)
const pc = makePanel({
  tag: "(c)", left: 102, right: 617, top: 582, bottom: 987,
  xDomain: [-1, 1], yDomain: [-8, 8], ticks: ticksC, xLabels: labelsCx,
  xTitle: "Angular Position (rad)", yTitle: "Angular Velocity (rad/s)", chi: [529, 612]
});
drawTrajectory(pc, startC.concat(...ringsFrom(ringStationsC, 8)));

// (d)
const pd = makePanel({
  tag: "(d)", left: 732, right: 1247, top: 582, bottom: 987,
  xDomain: [-1.5, 1], yDomain: [-10, 20], ticks: ticksD,
  xTitle: "Angular Position (rad)", yTitle: "Angular Velocity (rad/s)", chi: [1110, 617]
});
drawTrajectory(pd, startD);
drawTrajectory(pd, hookD);
drawTrajectory(pd, [].concat(...ringsFrom(ringStationsD, 9)));
</script>
</body>
</html>
